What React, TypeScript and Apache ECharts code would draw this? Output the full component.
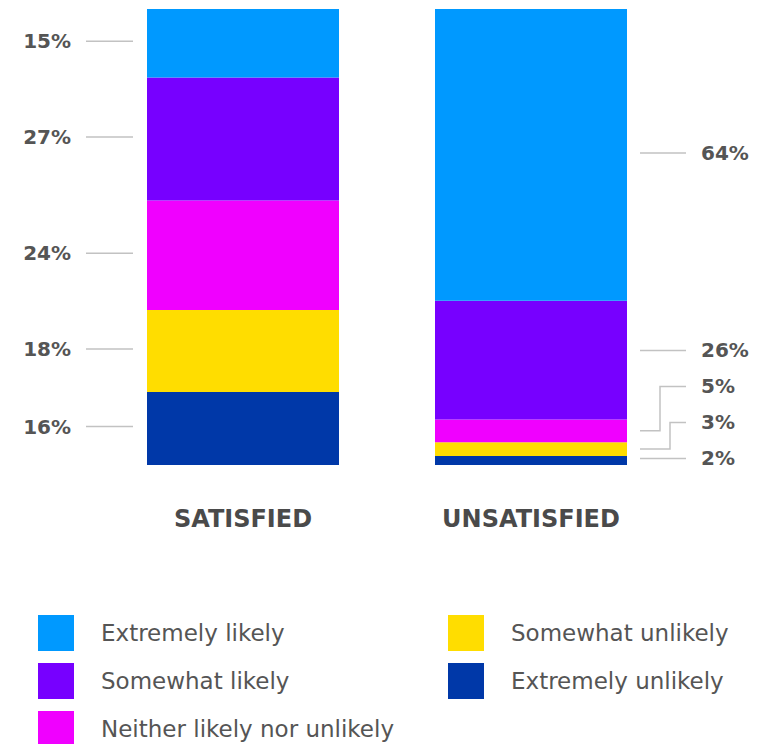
import React, { useEffect, useRef } from 'react';
import * as echarts from 'echarts';

const categories = ['SATISFIED', 'UNSATISFIED'];
const seriesNames = [
  'Extremely unlikely',
  'Somewhat unlikely',
  'Neither likely nor unlikely',
  'Somewhat likely',
  'Extremely likely',
];
const satisfiedValues = [16, 18, 24, 27, 15];
const unsatisfiedValues = [2, 3, 5, 26, 64];
const seriesColors = ['#0038A8', '#FFDD00', '#F000FF', '#7700FF', '#0099FF'];
const legendColumn1 = ['Extremely likely', 'Somewhat likely', 'Neither likely nor unlikely'];
const legendColumn2 = ['Somewhat unlikely', 'Extremely unlikely'];

const FONT = '"DejaVu Sans", "Open Sans", sans-serif';
const TEXT_COLOR = '#555555';
const LINE_COLOR = '#c2c2c2';

export default function App() {
  const ref = useRef<HTMLDivElement>(null);

  useEffect(() => {
    document.body.style.margin = '0';
    if (!ref.current) return;
    const chart = echarts.init(ref.current, undefined, { renderer: 'svg' });
    const valuesByCat = [satisfiedValues, unsatisfiedValues];
    const BAR_WIDTH = 192;
    const GAP = 36;

    const labelData: number[][] = [];
    valuesByCat.forEach((vals, c) => vals.forEach((_, s) => labelData.push([c, s])));

    const renderItem = (params: any, api: any) => {
      const cat = api.value(0);
      const seg = api.value(1);
      const vals = valuesByCat[cat];
      const cx = api.coord([cat, 0])[0];
      const half = BAR_WIDTH / 2;
      let cum = 0;
      const segs = vals.map((v) => {
        const y0 = api.coord([cat, cum])[1];
        cum += v;
        const y1 = api.coord([cat, cum])[1];
        return { bottom: y0, top: y1, mid: (y0 + y1) / 2 };
      });
      const ys: number[] = [];
      segs.forEach((sg, i) => {
        const want = sg.mid - 2;
        ys.push(i === 0 ? want : Math.min(want, ys[i - 1] - GAP));
      });
      let elbowIndex = 0;
      const elbowOrder: number[] = [];
      segs.forEach((sg, i) => {
        if (ys[i] < sg.top || ys[i] > sg.bottom) elbowOrder[i] = elbowIndex++;
      });
      const y = ys[seg];
      const sg = segs[seg];
      const children: any[] = [];
      const text = vals[seg] + '%';
      const textStyle = {
        fill: TEXT_COLOR, fontSize: 20, fontWeight: 'bold', fontFamily: FONT, verticalAlign: 'middle',
      };
      if (cat === 0) {
        const x1 = cx - half - 14;
        const x0 = cx - half - 61;
        children.push({
          type: 'polyline',
          shape: { points: [[x0, y], [x1, y]] },
          style: { stroke: LINE_COLOR, lineWidth: 1.5, fill: null },
        });
        children.push({
          type: 'text',
          style: { ...textStyle, text, x: cx - half - 76, y, align: 'right' },
        });
      } else {
        const xs = cx + half + 13;
        const xe = cx + half + 59;
        let pts: number[][];
        if (elbowOrder[seg] !== undefined) {
          const ex = xe - 16 - 10 * elbowOrder[seg];
          pts = [[xs, sg.mid], [ex, sg.mid], [ex, y], [xe, y]];
        } else {
          pts = [[xs, y], [xe, y]];
        }
        children.push({
          type: 'polyline',
          shape: { points: pts },
          style: { stroke: LINE_COLOR, lineWidth: 1.5, fill: null },
        });
        children.push({
          type: 'text',
          style: { ...textStyle, text, x: cx + half + 74, y, align: 'left' },
        });
      }
      return { type: 'group', children };
    };

    const legendBase = {
      orient: 'vertical',
      top: 615,
      height: 200,
      padding: 0,
      itemWidth: 36,
      itemHeight: 36,
      itemGap: 12,
      icon: 'rect',
      selectedMode: false,
      textStyle: { fontSize: 23, color: TEXT_COLOR, fontFamily: FONT, padding: [0, 0, 0, 22] },
    };

    chart.setOption({
      animation: false,
      textStyle: { fontFamily: FONT },
      grid: { left: 99, width: 576, top: 9, height: 456 },
      legend: [
        { ...legendBase, left: 38, data: legendColumn1 },
        { ...legendBase, left: 448, data: legendColumn2 },
      ],
      xAxis: {
        type: 'category',
        data: categories,
        axisLine: { show: false },
        axisTick: { show: false },
        axisLabel: {
          margin: 42,
          fontSize: 24,
          fontWeight: 'bold',
          color: '#4a4a4a',
          lineHeight: 24,
          fontFamily: FONT,
        },
      },
      yAxis: { type: 'value', min: 0, max: 100, show: false },
      series: [
        ...seriesNames.map((name, i) => ({
          name,
          type: 'bar',
          stack: 'total',
          barWidth: BAR_WIDTH,
          itemStyle: { color: seriesColors[i] },
          data: [satisfiedValues[i], unsatisfiedValues[i]],
        })),
        {
          name: 'labels',
          type: 'custom',
          renderItem,
          clip: false,
          silent: true,
          z: 10,
          data: labelData,
        },
      ],
    });

    return () => chart.dispose();
  }, []);

  return <div ref={ref} style={{ width: 770, height: 744 }} />;
}
